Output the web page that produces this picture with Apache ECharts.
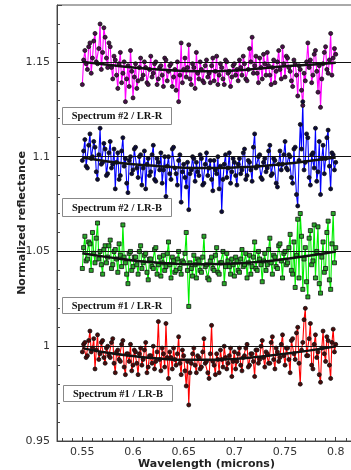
<!DOCTYPE html>
<html><head><meta charset="utf-8">
<script src="https://cdn.jsdelivr.net/npm/echarts@6/dist/echarts.min.js"></script>
<style>html,body{margin:0;padding:0;background:#fff}#c{width:351px;height:470px}</style>
</head><body><div id="c"></div>
<script>
const wavelength = [
 0.55,0.55125,0.5525,0.55375,0.555,0.55625,0.5575,0.55875,0.56,0.56125,0.5625,0.56375,0.565,0.56625,0.5675,0.56875,0.57,0.57125,0.5725,0.57375,0.575,0.57625,0.5775,0.57875,0.58,0.58125,0.5825,0.58375,0.585,0.58625,0.5875,0.58875,0.59,0.59125,0.5925,0.59375,0.595,0.59625,0.5975,0.59875,0.6,
 0.60125,0.6025,0.60375,0.605,0.60625,0.6075,0.60875,0.61,0.61125,0.6125,0.61375,0.615,0.61625,0.6175,0.61875,0.62,0.62125,0.6225,0.62375,0.625,0.62625,0.6275,0.62875,0.63,0.63125,0.6325,0.63375,0.635,0.63625,0.6375,0.63875,0.64,0.64125,0.6425,0.64375,0.645,0.64625,0.6475,0.64875,0.65,
 0.65125,0.6525,0.65375,0.655,0.65625,0.6575,0.65875,0.66,0.66125,0.6625,0.66375,0.665,0.66625,0.6675,0.66875,0.67,0.67125,0.6725,0.67375,0.675,0.67625,0.6775,0.67875,0.68,0.68125,0.6825,0.68375,0.685,0.68625,0.6875,0.68875,0.69,0.69125,0.6925,0.69375,0.695,0.69625,0.6975,0.69875,0.7,
 0.70125,0.7025,0.70375,0.705,0.70625,0.7075,0.70875,0.71,0.71125,0.7125,0.71375,0.715,0.71625,0.7175,0.71875,0.72,0.72125,0.7225,0.72375,0.725,0.72625,0.7275,0.72875,0.73,0.73125,0.7325,0.73375,0.735,0.73625,0.7375,0.73875,0.74,0.74125,0.7425,0.74375,0.745,0.74625,0.7475,0.74875,0.75,
 0.75125,0.7525,0.75375,0.755,0.75625,0.7575,0.75875,0.76,0.76125,0.7625,0.76375,0.765,0.76625,0.7675,0.76875,0.77,0.77125,0.7725,0.77375,0.775,0.77625,0.7775,0.77875,0.78,0.78125,0.7825,0.78375,0.785,0.78625,0.7875,0.78875,0.79,0.79125,0.7925,0.79375,0.795,0.79625,0.7975,0.79875,0.8];
const spec2R = [
 1.138,1.151,1.156,1.149,1.146,1.158,1.160,1.144,1.152,1.161,1.165,1.150,1.149,1.157,1.170,1.146,1.155,1.168,1.163,1.152,1.147,1.160,
 1.158,1.147,1.141,1.153,1.151,1.143,1.136,1.149,1.155,1.139,1.144,1.150,1.129,1.141,1.148,1.137,1.156,1.145,1.131,1.142,
 1.149,1.136,1.140,1.147,1.152,1.141,1.143,1.150,1.147,1.139,1.138,1.146,1.153,1.142,1.144,1.149,1.150,1.138,1.141,1.147,1.148,1.143,1.137,1.152,1.151,1.140,1.145,1.148,1.149,1.137,1.142,1.146,1.135,1.150,1.129,1.143,1.160,1.139,1.146,1.152,
 1.142,1.147,1.159,1.141,1.138,1.149,1.147,1.136,1.155,1.144,1.141,1.150,1.146,1.140,1.139,1.148,1.151,1.142,1.144,1.139,1.148,1.152,1.140,1.145,1.153,1.138,1.143,1.149,1.147,1.141,1.138,1.151,1.150,1.144,1.145,1.137,1.142,1.148,1.149,1.143,
 1.146,1.140,1.151,1.147,1.143,1.153,1.149,1.141,1.140,1.146,1.157,1.150,1.163,1.144,1.148,1.153,1.144,1.139,1.152,1.147,1.141,1.154,1.149,1.143,1.155,1.148,1.143,1.138,1.147,1.151,1.139,1.145,1.150,1.156,1.146,1.141,1.158,1.149,1.142,1.153,
 1.152,1.147,1.145,1.140,1.137,1.151,1.149,1.143,1.132,1.148,1.146,1.135,1.127,1.144,1.140,1.150,1.160,1.147,1.151,1.139,1.143,1.154,1.156,1.145,1.134,1.148,1.126,1.141,1.149,1.155,1.158,1.146,1.144,1.151,1.165,1.143,1.152,1.157,1.154];
const spec2B = [
 1.098,1.103,1.109,1.095,1.094,1.106,1.112,1.099,1.100,1.108,1.105,1.092,1.088,1.101,1.115,1.096,1.097,1.107,1.104,1.090,1.091,1.102,
 1.108,1.094,1.096,1.104,1.083,1.097,1.102,1.088,1.090,1.103,1.110,1.095,1.099,1.086,1.081,1.098,1.100,1.091,1.093,1.104,
 1.105,1.094,1.089,1.100,1.101,1.085,1.094,1.103,1.083,1.096,1.099,1.090,1.092,1.101,1.106,1.088,1.087,1.099,1.097,1.093,1.102,1.086,1.093,1.100,1.079,1.095,1.100,1.091,1.088,1.104,1.105,1.094,1.091,1.085,1.098,1.101,1.076,1.092,1.096,1.089,
 1.084,1.097,1.072,1.091,1.093,1.100,1.099,1.087,1.097,1.092,1.090,1.101,1.099,1.085,1.086,1.096,1.102,1.090,1.094,1.098,1.088,1.082,1.098,1.093,1.091,1.100,1.083,1.095,1.071,1.088,1.096,1.101,1.089,1.094,1.102,1.086,1.092,1.099,1.097,1.090,
 1.085,1.096,1.099,1.091,1.093,1.102,1.104,1.088,1.090,1.098,1.097,1.093,1.087,1.105,1.112,1.094,1.095,1.100,1.101,1.089,1.088,1.097,1.099,1.092,1.094,1.103,1.106,1.090,1.091,1.099,1.098,1.086,1.084,1.096,1.103,1.093,1.096,1.101,1.108,1.094,
 1.093,1.101,1.100,1.089,1.086,1.104,1.105,1.080,1.074,1.098,1.117,1.104,1.129,1.093,1.097,1.112,1.110,1.089,1.085,1.101,1.102,1.094,1.115,1.087,1.092,1.108,1.080,1.099,1.106,1.091,1.099,1.110,1.114,1.095,1.083,1.102,1.101,1.093,1.097];
const spec1R = [
 1.041,1.052,1.058,1.045,1.046,1.055,1.054,1.040,1.060,1.049,1.044,1.057,1.065,1.046,1.050,1.043,1.038,1.051,1.053,1.044,1.047,1.053,
 1.056,1.041,1.043,1.050,1.051,1.046,1.039,1.054,1.048,1.042,1.064,1.047,1.044,1.038,1.033,1.049,1.050,1.040,1.042,1.047,
 1.047,1.043,1.038,1.050,1.053,1.041,1.044,1.048,1.049,1.039,1.035,1.046,1.046,1.042,1.041,1.051,1.052,1.038,1.043,1.047,1.037,1.044,1.048,1.040,1.042,1.049,1.055,1.043,1.036,1.047,1.045,1.039,1.040,1.046,1.050,1.041,1.038,1.045,1.044,1.049,
 1.060,1.040,1.021,1.044,1.041,1.037,1.048,1.043,1.036,1.046,1.045,1.040,1.039,1.047,1.058,1.042,1.043,1.036,1.035,1.045,1.047,1.041,1.040,1.048,1.052,1.039,1.038,1.044,1.044,1.050,1.033,1.042,1.049,1.045,1.042,1.038,1.046,1.043,1.037,1.047,
 1.045,1.040,1.039,1.046,1.051,1.042,1.043,1.049,1.036,1.044,1.048,1.038,1.042,1.047,1.055,1.041,1.040,1.050,1.046,1.043,1.034,1.045,1.049,1.040,1.043,1.051,1.057,1.044,1.038,1.048,1.047,1.042,1.041,1.053,1.054,1.045,1.036,1.049,1.050,1.043,
 1.044,1.052,1.059,1.040,1.038,1.055,1.031,1.048,1.067,1.036,1.070,1.058,1.030,1.046,1.052,1.034,1.026,1.057,1.061,1.043,1.045,1.064,1.036,1.050,1.063,1.033,1.028,1.047,1.055,1.039,1.041,1.060,1.066,1.035,1.030,1.054,1.070,1.044,1.052];
const spec1B = [
 0.997,1.001,1.002,0.994,0.995,1.003,1.008,0.997,0.999,1.004,0.988,0.998,1.006,0.993,0.996,1.002,1.003,0.994,0.991,0.999,1.000,0.995,
 0.994,1.002,1.004,0.991,0.986,0.997,0.998,0.993,0.992,1.001,1.003,0.989,0.985,0.996,0.996,0.992,1.001,0.987,0.990,0.998,
 0.997,0.991,0.985,0.996,0.999,0.990,0.993,0.998,1.002,0.986,0.989,0.995,0.995,0.991,1.000,0.988,0.992,0.997,1.013,0.993,0.987,0.999,0.996,0.989,1.012,0.994,0.983,0.997,0.994,0.988,0.999,0.993,0.990,0.996,1.005,0.991,0.985,0.998,0.995,0.987,
 0.979,0.992,0.969,0.986,0.991,0.996,0.999,0.990,0.986,0.995,0.994,0.988,0.989,0.997,1.004,0.991,0.992,0.986,0.983,0.996,1.011,0.992,0.990,0.985,0.996,0.993,0.986,0.998,0.993,0.989,1.000,0.994,0.988,0.991,0.995,0.999,0.984,0.992,0.997,0.988,
 0.992,0.996,0.999,0.990,0.987,0.994,0.995,0.999,1.001,0.989,0.990,0.996,0.996,0.992,0.984,0.998,0.998,0.991,0.993,1.000,1.003,0.994,0.989,0.997,0.996,0.991,0.991,1.002,1.005,0.993,0.988,0.999,0.997,0.992,0.994,1.001,1.006,0.995,0.990,0.999,
 0.999,0.993,0.986,1.003,1.004,0.996,0.993,1.007,1.010,0.991,0.980,0.998,1.002,1.014,1.020,0.995,0.995,1.004,1.012,0.990,0.988,1.001,1.006,0.994,0.997,0.985,0.981,0.999,1.008,0.996,0.992,1.005,1.003,0.990,0.983,1.002,1.009,0.997,1.001];
const fitX = [0.55,0.575,0.6,0.625,0.65,0.675,0.7,0.725,0.75,0.775,0.8];
const fit2R = [1.1500,1.1485,1.1470,1.1460,1.1452,1.1450,1.1455,1.1465,1.1477,1.1485,1.1495];
const fit2B = [1.0995,1.0975,1.0960,1.0950,1.0942,1.0940,1.0943,1.0950,1.0962,1.0978,1.0995];
const fit1R = [1.0490,1.0470,1.0452,1.0440,1.0433,1.0432,1.0436,1.0445,1.0460,1.0478,1.0500];
const fit1B = [0.9990,0.9965,0.9948,0.9935,0.9928,0.9928,0.9933,0.9945,0.9960,0.9978,1.0000];
const refLevels = [1, 1.05, 1.1, 1.15];
const labels = ['Spectrum #2 / LR-R','Spectrum #2 / LR-B','Spectrum #1 / LR-R','Spectrum #1 / LR-B'];

const pair = (xs, ys) => xs.map((x, i) => [x, ys[i]]);
function specSeries(ys, lineColor, fillColor, symbol) {
  return {type:'line', data: pair(wavelength, ys), symbol: symbol, symbolSize: 4,
    showAllSymbol: true, animation:false,
    lineStyle:{color:lineColor, width:1.1},
    itemStyle:{color:fillColor, borderColor:'#111', borderWidth:0.8}, z:2};
}
function fitSeries(ys) {
  return {type:'line', data: pair(fitX, ys), smooth:true, symbol:'none', animation:false,
    lineStyle:{color:'#111', width:2.5}, z:5};
}
const chart = echarts.init(document.getElementById('c'));
const boxes = [[62,107,17],[62,198,18],[62,297,16],[63,385,16]];
chart.setOption({
  animation:false,
  grid:{left:57, top:5, right:-5, bottom:29, outerBoundsMode:'none', containLabel:false,
    show:true, borderColor:'#555', borderWidth:1},
  xAxis:{type:'value', min:0.525, max:0.82, splitNumber:6,
    name:'Wavelength (microns)', nameLocation:'middle', nameGap:18, nameMoveOverlap:false,
    nameTextStyle:{fontFamily:'DejaVu Sans', fontWeight:'bold', fontSize:11, color:'#222'},
    axisLine:{lineStyle:{color:'#444'}}, axisTick:{inside:true, length:4, lineStyle:{color:'#444'}},
    minorTick:{show:true, splitNumber:5, length:3, lineStyle:{color:'#444'}},
    axisLabel:{fontFamily:'DejaVu Sans', fontSize:11, color:'#333', margin:6, showMinLabel:false, showMaxLabel:false},
    splitLine:{show:false}},
  yAxis:{type:'value', min:0.95, max:1.18, interval:0.05,
    name:'Normalized reflectance', nameLocation:'middle', nameGap:29, nameMoveOverlap:false,
    nameTextStyle:{fontFamily:'DejaVu Sans', fontWeight:'bold', fontSize:11, color:'#222'},
    axisLine:{lineStyle:{color:'#444'}}, axisTick:{inside:true, length:5, lineStyle:{color:'#444'}},
    minorTick:{show:true, splitNumber:5, length:3, lineStyle:{color:'#444'}},
    axisLabel:{fontFamily:'DejaVu Sans', fontSize:11, color:'#333', margin:7, showMaxLabel:false,
      formatter:v=>String(+v.toFixed(2))},
    splitLine:{show:false}},
  series:[
    specSeries(spec2R,'#ff00ff','#4a104a','circle'),
    specSeries(spec2B,'#0000ff','#0a0a3a','circle'),
    specSeries(spec1R,'#00ee00','#2aa82a','rect'),
    specSeries(spec1B,'#ff0000','#4a0a0a','circle'),
    fitSeries(fit2R), fitSeries(fit2B), fitSeries(fit1R), fitSeries(fit1B),
    {type:'line', data:[], z:6, markLine:{silent:true, symbol:'none', animation:false,
      label:{show:false}, lineStyle:{color:'#111', width:1, type:'solid'},
      data: refLevels.map(v => ({yAxis:v}))}}
  ],
  graphic: labels.map((t, i) => ({type:'group', left:boxes[i][0], top:boxes[i][1], z:100, children:[
    {type:'rect', shape:{x:0,y:0,width:109,height:boxes[i][2]}, style:{fill:'#fff', stroke:'#888', lineWidth:1}},
    {type:'text', x:54.5, y:boxes[i][2]/2+0.5, style:{text:t, fill:'#111', font:'bold 10.5px "Liberation Serif"', align:'center', verticalAlign:'middle'}}
  ]}))
});
</script></body></html>
